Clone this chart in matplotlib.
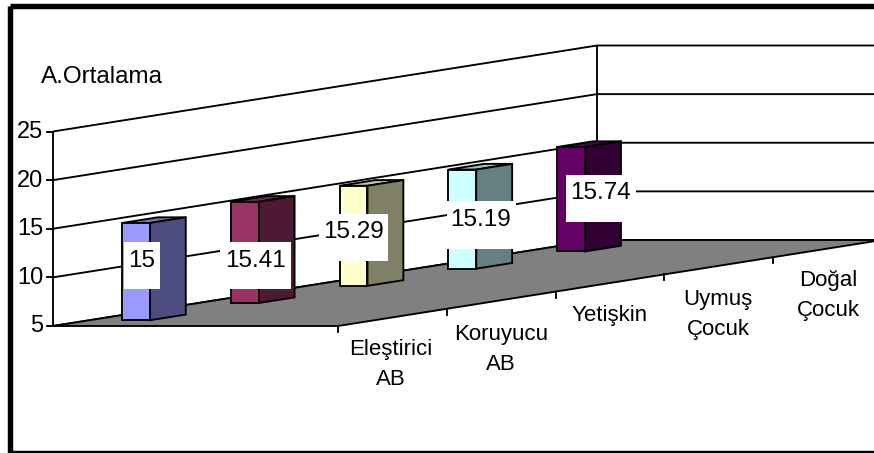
import matplotlib
matplotlib.use("Agg")
import matplotlib.pyplot as plt
from matplotlib.patches import Polygon, Rectangle

plt.rcParams['font.family'] = ['Liberation Sans', 'DejaVu Sans']

# Chart values
categories = ["Eleştirici\nAB", "Koruyucu\nAB", "Yetişkin", "Uymuş\nÇocuk", "Doğal\nÇocuk"]
values = [15, 15.41, 15.29, 15.19, 15.74]
value_labels = ["15", "15.41", "15.29", "15.19", "15.74"]
y_ticks = [5, 10, 15, 20, 25]
y_title = "A.Ortalama"

# Bar face colours: front, side, top
front_colors = ["#9999FF", "#993366", "#FFFFCC", "#CCFFFF", "#660066"]
side_colors = ["#4D4D80", "#4D1A33", "#808066", "#668080", "#330033"]
top_colors = ["#7373C0", "#73264D", "#C0C099", "#99C0C0", "#4D004D"]

# Oblique projection of the 3-D box, in canvas units
W, H = 874, 453
ORIGIN = (53.0, 326.0)
CAT_STEP = (108.8, -17.2)
DEPTH_VEC = (285.0, 0.0)
UNIT_PX = 9.725
BASE = y_ticks[0]


def project(t, v, d=0.0):
    """Map category position t, value v and depth d (0 to 1) to canvas units."""
    x = ORIGIN[0] + t * CAT_STEP[0] + d * DEPTH_VEC[0]
    y = ORIGIN[1] + t * CAT_STEP[1] - (v - BASE) * UNIT_PX
    return x, y


fig = plt.figure(figsize=(W / 100, H / 100), dpi=100, facecolor="white")
ax = fig.add_axes([0, 0, 1, 1])
ax.set_xlim(0, W)
ax.set_ylim(H, 0)
ax.axis("off")

LW = 1.35
N = len(categories)
top_value = y_ticks[-1]

# Gridlines running along the back wall and the side wall
for v in y_ticks:
    xs, ys = zip(project(0, v), project(N, v), project(N, v, 1))
    ax.plot(xs, ys, color="black", lw=LW, zorder=1, solid_capstyle="butt")
    tx, ty = project(0, v)
    ax.plot([tx - 6, tx], [ty, ty], color="black", lw=LW, zorder=1)
    ax.text(tx - 9.5, ty + 0.5, str(v), ha="right", va="center", fontsize=17, color="black")

# Vertical wall edges
for t in (0, N):
    xs, ys = zip(project(t, BASE), project(t, top_value))
    ax.plot(xs, ys, color="black", lw=LW, zorder=1)

# Floor
floor = [project(0, BASE), project(N, BASE), project(N, BASE, 1), project(0, BASE, 1)]
ax.add_patch(Polygon(floor, closed=True, facecolor="#808080", edgecolor="black", lw=LW, zorder=2))

# Category ticks along the front edge of the floor
for t in range(N):
    x, y = project(t, BASE, 1)
    ax.plot([x, x], [y, y + 6], color="black", lw=LW, zorder=2)

# Columns
BAR_T = 0.335
BAR_TW = 0.33
BAR_D = 0.114
BAR_DW = 0.098
for i, v in enumerate(values):
    t0, t1 = i + BAR_T, i + BAR_T + BAR_TW
    d0, d1 = BAR_D, BAR_D + BAR_DW
    front = [project(t0, BASE, d0), project(t0, BASE, d1), project(t0, v, d1), project(t0, v, d0)]
    side = [project(t0, BASE, d1), project(t1, BASE, d1), project(t1, v, d1), project(t0, v, d1)]
    top = [project(t0, v, d0), project(t0, v, d1), project(t1, v, d1), project(t1, v, d0)]
    for face, col in ((top, top_colors[i]), (side, side_colors[i]), (front, front_colors[i])):
        ax.add_patch(Polygon(face, closed=True, facecolor=col, edgecolor="black",
                             lw=LW, zorder=3, joinstyle="miter"))

# Value labels on white boxes: left, right, top, bottom and text centre
label_boxes = [(124, 160, 242, 289), (220, 291, 242, 289), (319, 388, 214, 261),
               (447, 516, 201, 249), (566, 636, 175, 222)]
label_centres = [(141.5, 261), (255.5, 261), (353.5, 232), (481, 219.5), (600.5, 193)]
for text, (l, r, t, b), (cx, cy) in zip(value_labels, label_boxes, label_centres):
    ax.add_patch(Rectangle((l, t), r - l, b - t, facecolor="white", edgecolor="none", zorder=4))
    ax.text(cx, cy, text, ha="center", va="center", fontsize=17.5, color="black", zorder=5)

# Category labels below the floor
cat_centres = [(391, 364.5), (501, 349.5), (610, 316), (718, 314.5), (828, 295.5)]
for text, (cx, cy) in zip(categories, cat_centres):
    ax.text(cx, cy, text, ha="center", va="center", fontsize=16, color="black",
            linespacing=1.55, zorder=5)

ax.text(41, 77, y_title, ha="left", va="center", fontsize=17.5, color="black")

# Heavy outer frame, running off the right and bottom of the canvas
ax.add_patch(Rectangle((9.8, 6.2), W + 20, 450.7 + 2.7 - 6.2, facecolor="none", edgecolor="black",
                       lw=5.4 * 0.72, zorder=6, clip_on=True))

fig.savefig("out.png", dpi=100, facecolor="white")
